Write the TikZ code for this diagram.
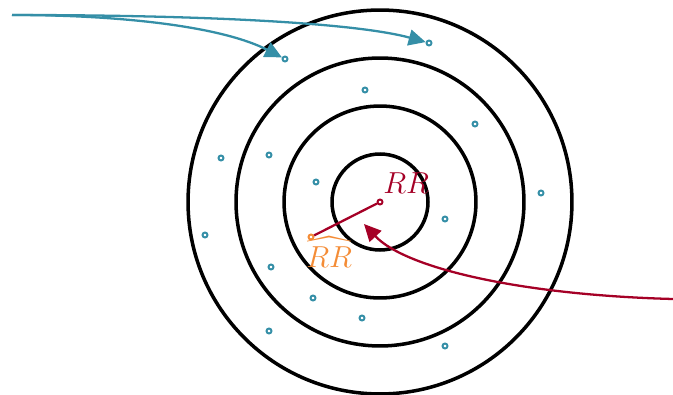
\documentclass[tikz,border=0pt]{standalone}
\usepackage{amsmath}
\usepackage{tikz}
\usetikzlibrary{arrows.meta, positioning}
\definecolor{sampleteal}{RGB}{53,143,167}
\definecolor{ratiored}{RGB}{165,0,38}
\definecolor{estorange}{RGB}{244,140,54}
\tikzstyle{ring} = [line width=2pt, black]
\tikzstyle{sample} = [circle, draw=sampleteal, fill=white, line width=1.1pt,
  inner sep=0pt, minimum size=0.1cm]
\tikzstyle{tealarrow} = [sampleteal, line width=1.3pt, -{Triangle[length=3.4mm, width=3.2mm]}]
\tikzstyle{redarrow} = [ratiored, line width=1.3pt, -{Triangle[length=3.4mm, width=3.2mm]}]

\begin{document}
\begin{tikzpicture}[x=0.02cm, y=-0.02cm]
    \useasboundingbox (0,0) rectangle (673,395);
    \coordinate (ctr) at (380,202);
    \draw[ring] (ctr) circle[radius=0.96cm];
    \draw[ring] (ctr) circle[radius=1.92cm];
    \draw[ring] (ctr) circle[radius=2.88cm];
    \draw[ring] (ctr) circle[radius=3.84cm];
    % samples
    \node[sample] (s1) at (285,59) {};
    \node[sample] (s2) at (429,43) {};
    \node[sample] (s3) at (365,90) {};
    \node[sample] (s4) at (475,124) {};
    \node[sample] (s5) at (221,158) {};
    \node[sample] (s6) at (269,155) {};
    \node[sample] (s7) at (316,182) {};
    \node[sample] (s8) at (541,193) {};
    \node[sample] (s9) at (445,219) {};
    \node[sample] (s10) at (205,235) {};
    \node[sample] (s11) at (271,267) {};
    \node[sample] (s12) at (313,298) {};
    \node[sample] (s13) at (362,318) {};
    \node[sample] (s14) at (269,331) {};
    \node[sample] (s15) at (445,346) {};
    % true value and estimate
    \node[sample, draw=ratiored] (rr) at (ctr) {};
    \node[sample, draw=estorange] (est) at (311,237) {};
    \draw[ratiored, line width=1.3pt] (rr) -- (est);
    \node[text=ratiored, font=\fontsize{16}{18}\selectfont, inner sep=0pt, anchor=base west] (rrlbl) at (383,194) {$RR$};
    \node[text=estorange, font=\fontsize{16}{18}\selectfont, inner sep=0pt, anchor=base west] (estlbl) at (306,267) {$\widehat{RR}$};
    % arrows
    \coordinate (src) at (12,15);
    \coordinate (dst) at (673,299);
    \coordinate (hit) at (364,224);
    \draw[tealarrow] (src) .. controls (130,15) and (225,28) .. (s1);
    \draw[tealarrow] (src) .. controls (220,15) and (360,24) .. (s2);
    \draw[redarrow] (dst) .. controls (520,295) and (405,268) .. (hit);
  \end{tikzpicture}
\end{document}
